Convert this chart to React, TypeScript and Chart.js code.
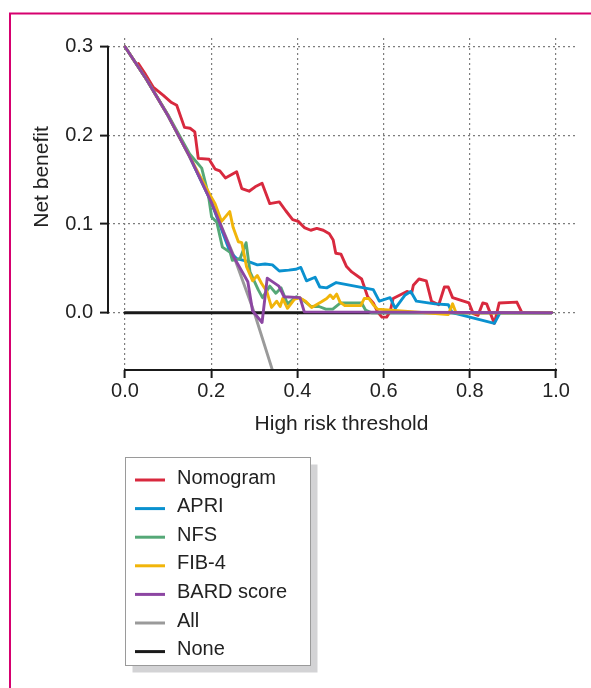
import React, { useEffect, useRef } from "react";
import { Chart, registerables } from "chart.js";

Chart.register(...registerables);

const FONT = '"Liberation Sans", Arial, Helvetica, sans-serif';

// ---- axis ticks ----
const xTicks = [0, 0.2, 0.4, 0.6, 0.8, 1.0];
const yTicks = [0, 0.1, 0.2, 0.3];
const xTitle = "High risk threshold";
const yTitle = "Net benefit";

// ---- series (threshold, net benefit) ----
const nomogram: [number, number][] = [
  [0.031, 0.281], [0.046, 0.270], [0.066, 0.254], [0.089, 0.245], [0.108, 0.237], [0.120, 0.234],
  [0.138, 0.209], [0.151, 0.208], [0.162, 0.204], [0.170, 0.174], [0.195, 0.173], [0.209, 0.162],
  [0.220, 0.160], [0.233, 0.152], [0.259, 0.159], [0.271, 0.140], [0.288, 0.137], [0.302, 0.142],
  [0.318, 0.146], [0.336, 0.123], [0.358, 0.125], [0.373, 0.115], [0.389, 0.105], [0.402, 0.103],
  [0.416, 0.096], [0.431, 0.093], [0.445, 0.095], [0.460, 0.093], [0.474, 0.089], [0.483, 0.082],
  [0.489, 0.067], [0.501, 0.066], [0.514, 0.052], [0.526, 0.046], [0.549, 0.038], [0.563, 0.018],
  [0.576, 0.011], [0.586, 0.001], [0.596, -0.005], [0.607, -0.005], [0.615, 0.001], [0.622, 0.016],
  [0.638, 0.020], [0.654, 0.024], [0.665, 0.022], [0.669, 0.031], [0.682, 0.038], [0.699, 0.036],
  [0.711, 0.013], [0.728, 0.009], [0.741, 0.029], [0.750, 0.029], [0.760, 0.017], [0.798, 0.011],
  [0.808, -0.001], [0.819, -0.003], [0.830, 0.011], [0.839, 0.010], [0.857, -0.012], [0.868, 0.011],
  [0.909, 0.012], [0.920, 0.001],
];

const apri: [number, number][] = [
  [0, 0.300], [0.05, 0.263], [0.1, 0.222], [0.15, 0.176], [0.2, 0.125], [0.244, 0.068],
  [0.259, 0.061], [0.275, 0.059], [0.290, 0.057], [0.307, 0.054], [0.325, 0.055], [0.342, 0.054],
  [0.358, 0.047], [0.380, 0.048], [0.396, 0.049], [0.408, 0.051], [0.421, 0.036], [0.441, 0.040],
  [0.452, 0.029], [0.468, 0.028], [0.490, 0.034], [0.576, 0.026], [0.590, 0.013], [0.615, 0.017],
  [0.627, 0.005], [0.650, 0.020], [0.663, 0.024], [0.676, 0.013], [0.719, 0.010], [0.750, 0.009],
  [0.759, 0.000], [0.857, -0.012], [0.870, 0.000], [0.990, 0.000],
];

const nfs: [number, number][] = [
  [0, 0.300], [0.05, 0.263], [0.1, 0.223], [0.15, 0.179], [0.178, 0.163], [0.193, 0.134],
  [0.201, 0.108], [0.213, 0.102], [0.226, 0.074], [0.244, 0.068], [0.249, 0.059], [0.267, 0.061],
  [0.281, 0.079], [0.290, 0.046], [0.309, 0.026], [0.319, 0.017], [0.336, 0.030], [0.350, 0.022],
  [0.362, 0.028], [0.377, 0.010], [0.398, 0.018], [0.414, 0.014], [0.432, 0.007], [0.450, 0.007],
  [0.466, 0.004], [0.482, 0.004], [0.500, 0.011], [0.549, 0.011], [0.558, 0.003], [0.572, 0.000],
  [0.990, 0.000],
];

const fib4: [number, number][] = [
  [0, 0.300], [0.05, 0.263], [0.1, 0.222], [0.15, 0.176], [0.197, 0.133], [0.209, 0.123],
  [0.224, 0.103], [0.243, 0.114], [0.251, 0.096], [0.263, 0.080], [0.271, 0.079], [0.282, 0.052],
  [0.296, 0.036], [0.307, 0.042], [0.317, 0.033], [0.329, 0.024], [0.340, 0.006], [0.352, 0.013],
  [0.360, 0.007], [0.366, 0.016], [0.377, 0.005], [0.393, 0.015], [0.404, 0.017], [0.419, 0.013],
  [0.433, 0.006], [0.455, 0.012], [0.468, 0.016], [0.476, 0.020], [0.483, 0.016], [0.491, 0.021],
  [0.499, 0.012], [0.510, 0.008], [0.547, 0.008], [0.555, 0.016], [0.566, 0.016], [0.576, 0.009],
  [0.586, 0.004], [0.750, -0.002], [0.760, 0.010], [0.768, 0.000], [0.990, 0.000],
];

const bard: [number, number][] = [
  [0, 0.300], [0.05, 0.263], [0.1, 0.222], [0.15, 0.176], [0.2, 0.125], [0.251, 0.064],
  [0.285, 0.035], [0.296, 0.002], [0.318, -0.011], [0.330, 0.039], [0.357, 0.030], [0.369, 0.018],
  [0.406, 0.017], [0.416, 0.001], [0.990, 0.000],
];

const allTreat: [number, number][] = [
  [0, 0.300], [0.05, 0.263], [0.1, 0.222], [0.15, 0.176], [0.2, 0.125], [0.25, 0.067],
  [0.3, 0.000], [0.35, -0.077],
];

const noneTreat: [number, number][] = [
  [0, 0.000], [0.99, 0.000],
];

const seriesNames = ["Nomogram", "APRI", "NFS", "FIB-4", "BARD score", "All", "None"];
const seriesColors = ["#d8293e", "#0a91cf", "#55a877", "#f1b50a", "#8c46a2", "#9a9a9a", "#1a1a1a"];
const seriesData = [nomogram, apri, nfs, fib4, bard, allTreat, noneTreat];
// drawing order: lower = on top
const seriesOrder = [4, 3, 2, 1, 0, 6, 5];

const decorPlugin = {
  id: "decor",
  afterDraw(chart: any) {
    const ctx = chart.ctx as CanvasRenderingContext2D;
    const xs = chart.scales.x;
    const ys = chart.scales.y;
    const area = chart.chartArea;
    ctx.save();

    // frame
    ctx.strokeStyle = "#d6006f";
    ctx.lineWidth = 2;
    ctx.beginPath();
    ctx.moveTo(10, 700);
    ctx.lineTo(10, 13.5);
    ctx.lineTo(600, 13.5);
    ctx.stroke();

    // axis lines (R style)
    ctx.strokeStyle = "#1a1a1a";
    ctx.lineWidth = 2;
    ctx.lineCap = "square";
    ctx.beginPath();
    ctx.moveTo(area.left, ys.getPixelForValue(yTicks[0]));
    ctx.lineTo(area.left, ys.getPixelForValue(yTicks[yTicks.length - 1]));
    ctx.moveTo(xs.getPixelForValue(xTicks[0]), area.bottom);
    ctx.lineTo(xs.getPixelForValue(xTicks[xTicks.length - 1]), area.bottom);
    ctx.stroke();

    // titles
    ctx.fillStyle = "#222";
    ctx.font = `21px ${FONT}`;
    ctx.textAlign = "center";
    ctx.textBaseline = "middle";
    ctx.fillText(xTitle, (area.left + area.right) / 2, 424);
    ctx.save();
    ctx.translate(42, 177);
    ctx.rotate(-Math.PI / 2);
    ctx.fillText(yTitle, 0, 0);
    ctx.restore();

    // legend
    const bx = 125.5, by = 457.5, bw = 185, bh = 208;
    ctx.fillStyle = "#d3d3d5";
    ctx.fillRect(bx + 7, by + 7, bw, bh);
    ctx.fillStyle = "#ffffff";
    ctx.fillRect(bx, by, bw, bh);
    ctx.strokeStyle = "#9a9a9a";
    ctx.lineWidth = 1;
    ctx.strokeRect(bx, by, bw, bh);
    ctx.textAlign = "left";
    ctx.textBaseline = "middle";
    ctx.font = `20px ${FONT}`;
    seriesNames.forEach((name, i) => {
      const yc = 478 + i * 28.6;
      ctx.strokeStyle = seriesColors[i];
      ctx.lineWidth = 3;
      ctx.lineCap = "butt";
      ctx.beginPath();
      ctx.moveTo(135, yc + 2);
      ctx.lineTo(165, yc + 2);
      ctx.stroke();
      ctx.fillStyle = "#222";
      ctx.fillText(name, 177, yc);
    });
    ctx.restore();
  },
};

export default function App() {
  const ref = useRef<HTMLCanvasElement>(null);
  useEffect(() => {
    const canvas = ref.current!;
    const gridCommon = {
      color: "#7d7d7d",
      lineWidth: 1.2,
      borderDash: [2, 3],
      drawTicks: true,
      tickLength: 8,
      tickColor: "#1a1a1a",
      tickWidth: 2,
      tickBorderDash: [],
    };
    const chart = new Chart(canvas, {
      type: "line",
      data: {
        datasets: seriesNames.map((name, i) => ({
          label: name,
          data: seriesData[i].map(([x, y]) => ({ x, y })),
          borderColor: seriesColors[i],
          backgroundColor: seriesColors[i],
          borderWidth: 2.9,
          pointRadius: 0,
          tension: 0,
          fill: false,
          order: seriesOrder[i],
          borderJoinStyle: "round",
          borderCapStyle: "round",
        })),
      },
      options: {
        responsive: false,
        animation: false,
        devicePixelRatio: 1,
        layout: { padding: { left: 0, top: 38, right: 16, bottom: 0 } },
        plugins: { legend: { display: false }, tooltip: { enabled: false } },
        scales: {
          x: {
            type: "linear",
            min: -0.0394,
            max: 1.044,
            afterBuildTicks: (s: any) => {
              s.ticks = xTicks.map((v) => ({ value: v }));
            },
            afterFit: (s: any) => {
              s.height = 688 - 370;
            },
            grid: gridCommon,
            border: { display: false, dash: [2, 3] },
            ticks: {
              color: "#222",
              font: { family: FONT, size: 20 },
              padding: 1,
              maxRotation: 0,
              autoSkip: false,
              callback: (v: any) => Number(v).toFixed(1),
            },
          },
          y: {
            type: "linear",
            min: -0.0646,
            max: 0.3098,
            afterBuildTicks: (s: any) => {
              s.ticks = yTicks.map((v) => ({ value: v }));
            },
            afterFit: (s: any) => {
              s.width = 108;
            },
            grid: gridCommon,
            border: { display: false, dash: [2, 3] },
            ticks: {
              color: "#222",
              font: { family: FONT, size: 20 },
              padding: 7,
              autoSkip: false,
              callback: (v: any) => Number(v).toFixed(1),
            },
          },
        },
      } as any,
      plugins: [decorPlugin],
    });
    return () => chart.destroy();
  }, []);
  return (
    <canvas
      ref={ref}
      width={591}
      height={688}
      style={{ position: "fixed", left: 0, top: 0, width: 591, height: 688, display: "block" }}
    />
  );
}
